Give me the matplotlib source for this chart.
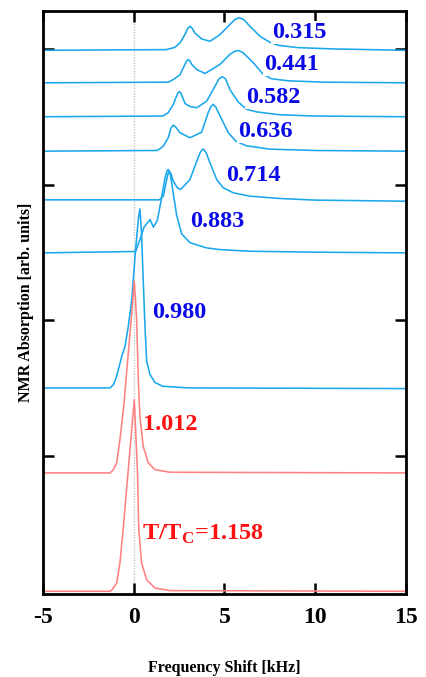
import matplotlib
matplotlib.use("Agg")
import matplotlib.pyplot as plt
import numpy as np

# ---- data (frequency in kHz, amplitude in arb. units above baseline)
labels = ["0.315", "0.441", "0.582", "0.636", "0.714", "0.883", "0.980", "1.012", "1.158"]
baselines = [3.99, 3.75, 3.50, 3.246, 2.877, 2.496, 1.50, 0.873, 0.0]

f_0315 = [-5, 1.8, 2.27, 2.55, 2.82, 2.97, 3.1, 3.23, 3.37, 3.74, 4.2, 4.75, 5.3, 5.58, 5.81, 6.05, 6.31, 6.96, 7.5, 7.96, 9.0, 11.0, 15]
a_0315 = [0, 0.005, 0.022, 0.055, 0.116, 0.16, 0.177, 0.16, 0.128, 0.084, 0.066, 0.116, 0.19, 0.228, 0.239, 0.228, 0.19, 0.103, 0.059, 0.037, 0.02, 0.01, 0.0]

f_0441 = [-5, 1.9, 2.18, 2.55, 2.8, 2.9, 3.0, 3.1, 3.2, 3.47, 3.93, 4.75, 5.3, 5.52, 5.76, 6.0, 6.59, 7.14, 7.6, 8.5, 10.5, 15]
a_0441 = [0, 0.005, 0.024, 0.061, 0.13, 0.158, 0.172, 0.16, 0.135, 0.098, 0.069, 0.136, 0.21, 0.23, 0.238, 0.225, 0.148, 0.061, 0.03, 0.015, 0.005, 0]

f_0582 = [-5, 1.6, 1.9, 2.18, 2.35, 2.45, 2.51, 2.6, 2.82, 3.1, 3.47, 4.02, 4.48, 4.7, 4.88, 5.05, 5.3, 5.76, 6.22, 6.8, 8, 10, 15]
a_0582 = [0, 0.005, 0.03, 0.091, 0.15, 0.178, 0.185, 0.175, 0.098, 0.075, 0.066, 0.115, 0.226, 0.28, 0.295, 0.28, 0.2, 0.108, 0.054, 0.035, 0.015, 0.005, 0]

f_0636 = [-5, 1.3, 1.63, 1.9, 2.05, 2.18, 2.3, 2.55, 3.1, 3.74, 4.1, 4.25, 4.38, 4.52, 4.85, 5.21, 5.63, 6.2, 7.5, 10, 15]
a_0636 = [0, 0.005, 0.037, 0.099, 0.17, 0.192, 0.18, 0.136, 0.099, 0.14, 0.283, 0.33, 0.345, 0.325, 0.234, 0.136, 0.074, 0.04, 0.015, 0.005, 0]

f_0714 = [-5, 1.4, 1.63, 1.78, 1.88, 1.96, 2.06, 2.18, 2.4, 2.58, 3.1, 3.47, 3.68, 3.83, 3.98, 4.2, 4.57, 4.93, 5.48, 6.4, 8.06, 10, 15]
a_0714 = [0.01, 0.01, 0.037, 0.135, 0.2, 0.22, 0.2, 0.148, 0.099, 0.086, 0.16, 0.295, 0.365, 0.385, 0.36, 0.283, 0.16, 0.099, 0.062, 0.037, 0.02, 0.008, 0]

f_0883 = [-5, 0.1, 0.35, 0.57, 0.9, 1.08, 1.3, 1.5, 1.72, 1.82, 1.9, 1.98, 2.05, 2.2, 2.36, 2.64, 3.1, 4.0, 4.75, 6.4, 10, 15]
a_0883 = [0, 0.01, 0.1, 0.19, 0.246, 0.19, 0.24, 0.38, 0.55, 0.6, 0.615, 0.6, 0.55, 0.42, 0.28, 0.14, 0.075, 0.037, 0.024, 0.012, 0.005, 0]

f_0980 = [-5, -1.3, -1.12, -0.94, -0.66, -0.48, -0.3, -0.11, 0.07, 0.25, 0.34, 0.43, 0.52, 0.62, 0.71, 0.89, 1.17, 1.6, 3, 15]
a_0980 = [0, 0.0, 0.024, 0.086, 0.233, 0.307, 0.455, 0.65, 0.97, 1.24, 1.32, 1.14, 0.8, 0.45, 0.2, 0.1, 0.04, 0.012, 0.0, -0.005]

f_1012 = [-5, -1.3, -1.12, -0.94, -0.76, -0.57, -0.3, -0.11, 0.03, 0.16, 0.25, 0.34, 0.52, 0.8, 1.17, 2, 15]
a_1012 = [0, 0, 0.024, 0.074, 0.246, 0.467, 0.886, 1.18, 1.414, 1.13, 0.69, 0.418, 0.196, 0.074, 0.024, 0.005, 0]

f_1158 = [-5, -1.3, -1.2, -0.94, -0.76, -0.57, -0.3, 0.03, 0.2, 0.28, 0.43, 0.71, 1.17, 2, 15]
a_1158 = [0, 0, 0.011, 0.06, 0.21, 0.48, 0.9, 1.413, 0.9, 0.45, 0.21, 0.085, 0.024, 0.005, 0]

freqs = [f_0315, f_0441, f_0582, f_0636, f_0714, f_0883, f_0980, f_1012, f_1158]
amps = [a_0315, a_0441, a_0582, a_0636, a_0714, a_0883, a_0980, a_1012, a_1158]

# label anchor positions (data coords)
label_x = [7.62, 7.18, 6.18, 5.74, 5.08, 3.10, 1.00, 0.51, 0.45]
label_y = [4.12, 3.886, 3.642, 3.391, 3.066, 2.727, 2.055, 1.229, 0.417]

xticks = [-5, 0, 5, 10, 15]

BLUE_LINE = "#1AA7EC"
RED_LINE = "#FF8080"
BLUE_TEXT = "#0A0AE6"
RED_TEXT = "#FF1010"

plt.rcParams["font.family"] = ["Liberation Serif", "DejaVu Serif"]
plt.rcParams["mathtext.fontset"] = "custom"
plt.rcParams["mathtext.rm"] = "Liberation Serif"
plt.rcParams["mathtext.bf"] = "Liberation Serif:bold"

fig = plt.figure(figsize=(4.27, 6.77), dpi=100)
ax = fig.add_axes([0.1007, 0.1226, 0.8501, 0.8612])

ax.axvline(0, color="#c8c8c8", lw=1.0, ls=(0, (1, 1)), zorder=1)

for i, (f, a, b) in enumerate(zip(freqs, amps, baselines)):
    col = RED_LINE if float(labels[i]) > 1 else BLUE_LINE
    ax.plot(f, np.asarray(a) + b, color=col, lw=1.15, zorder=2)

for i, lab in enumerate(labels):
    red = float(lab) > 1
    col = RED_TEXT if red else BLUE_TEXT
    if lab == "1.158":
        txt = r"T/T$_{\mathbf{C}}$=1.158"
    else:
        txt = lab
    kw = {}
    if i < 4:
        kw["bbox"] = dict(facecolor="white", edgecolor="none", pad=0.5)
    ax.text(label_x[i], label_y[i], txt, color=col, fontsize=17.5, fontweight="bold",
            ha="left", va="center", zorder=5, **kw)

ax.set_xlim(-5, 15)
ax.set_ylim(-0.02, 4.28)
ax.set_xticks(xticks)
ax.set_xticklabels([str(t) for t in xticks], fontsize=17, fontweight="bold")
ax.set_yticks([1, 2, 3, 4])
ax.set_yticklabels([])
ax.tick_params(direction="in", length=8, width=1.8, top=True, right=True, pad=9.5)
for s in ax.spines.values():
    s.set_linewidth(2.0)

ax.set_xlabel("Frequency Shift [kHz]", fontsize=11.5, fontweight="bold", labelpad=23)
ax.set_ylabel("NMR Absorption [arb. units]", fontsize=11.5, fontweight="bold", labelpad=-3)

fig.savefig("out.png", dpi=100)
